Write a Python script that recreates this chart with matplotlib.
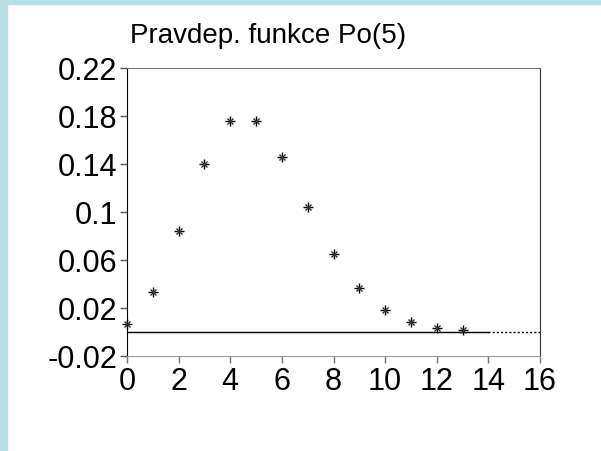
import matplotlib
matplotlib.use('Agg')
import matplotlib.pyplot as plt
from matplotlib.patches import Rectangle

plt.rcParams['font.family'] = ['Liberation Sans', 'DejaVu Sans']

# Po(5) probabilities
k = [0, 1, 2, 3, 4, 5, 6, 7, 8, 9, 10, 11, 12, 13]
p = [0.0067, 0.0337, 0.0842, 0.1404, 0.1755, 0.1755, 0.1462,
     0.1044, 0.0653, 0.0363, 0.0181, 0.0082, 0.0034, 0.0013]
xticks = [0, 2, 4, 6, 8, 10, 12, 14, 16]
yticks = [-0.02, 0.02, 0.06, 0.1, 0.14, 0.18, 0.22]
ylabels = ['-0.02', '0.02', '0.06', '0.1', '0.14', '0.18', '0.22']
title = 'Pravdep. funkce Po(5)'

fig = plt.figure(figsize=(6.01, 4.52), dpi=100)
fig.patch.set_facecolor('white')

# light blue frame on the left and top
border = '#b8e0e4'
fig.patches.append(Rectangle((0, 0), 7 / 601, 1, transform=fig.transFigure,
                             color=border, zorder=0))
fig.patches.append(Rectangle((0, 1 - 5 / 452), 1, 5 / 452, transform=fig.transFigure,
                             color=border, zorder=0))

ax = fig.add_axes([127 / 601, 1 - 357 / 452, 413 / 601, 288 / 452])
ax.set_xlim(0, 16)
ax.set_ylim(-0.02, 0.22)

# zero line: solid over the data range, dotted afterwards
ax.plot([0, 14], [0, 0], color='black', lw=1)
ax.plot([14, 16], [0, 0], color='black', lw=1, ls=(0, (1.5, 1.5)))

ax.plot(k, p, ls='none', marker='+', ms=7, mew=1, color='black', clip_on=False)
ax.plot(k, p, ls='none', marker='x', ms=5, mew=1, color='#333333', clip_on=False)

ax.set_xticks(xticks)
ax.set_yticks(yticks)
ax.set_yticklabels(ylabels)
ax.tick_params(axis='both', direction='out', length=5, width=1, labelsize=22, pad=2)
ax.tick_params(axis='x', colors='#777777', labelcolor='black')
ax.tick_params(axis='y', colors='#555555', labelcolor='black')

ax.spines['left'].set_color('black')
ax.spines['right'].set_color('#333333')
ax.spines['top'].set_color('#777777')
ax.spines['bottom'].set_color('#999999')

fig.text(268 / 601, 1 - 43 / 452, title, ha='center', va='baseline', fontsize=20)

fig.savefig('out.png', dpi=100)
